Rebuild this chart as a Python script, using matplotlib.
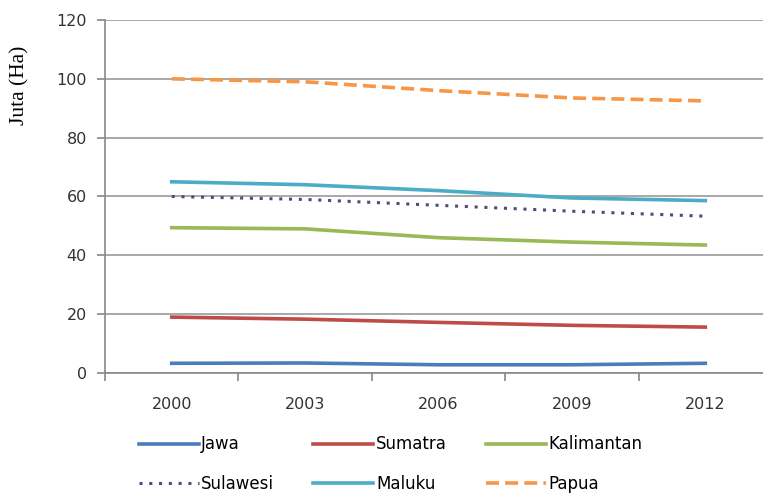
import numpy as np
import matplotlib.pyplot as plt

tahun = ['2000', '2003', '2006', '2009', '2012']
jawa = [3.3, 3.4, 2.8, 2.8, 3.3]
sumatra = [19.0, 18.3, 17.2, 16.2, 15.6]
kalimantan = [49.4, 49.0, 46.0, 44.5, 43.5]
sulawesi = [60.0, 59.0, 57.0, 55.0, 53.3]
maluku = [65.0, 64.0, 62.0, 59.5, 58.6]
papua = [100.0, 99.0, 96.0, 93.5, 92.5]

fig = plt.figure(figsize=(7.63, 4.95), dpi=100)
ax = fig.add_axes([105/763, 1-373/495, 667/763, 353/495])

x = np.arange(len(tahun))
lw = 2.6
l_jawa, = ax.plot(x, jawa, color='#4A7EBB', lw=lw, label='Jawa')
l_sum, = ax.plot(x, sumatra, color='#BE4B48', lw=lw, label='Sumatra')
l_kal, = ax.plot(x, kalimantan, color='#98B954', lw=lw, label='Kalimantan')
l_sul, = ax.plot(x, sulawesi, color='#54477A', lw=2.2, ls=(0, (1, 2.2)), label='Sulawesi')
l_mal, = ax.plot(x, maluku, color='#4BACC6', lw=lw, label='Maluku')
l_pap, = ax.plot(x, papua, color='#F79646', lw=lw, ls=(0, (3.6, 1.7)), label='Papua')

ax.set_xlim(-0.5, 4.5)
ax.set_ylim(0, 120)
ax.set_yticks(range(0, 121, 20))
ax.set_xticks(x)
ax.set_xticklabels(tahun, fontsize=11.5, family='DejaVu Sans', color='#333333')
ax.tick_params(axis='x', which='major', length=0, pad=17)
ax.set_xticks(np.arange(-0.5, 4.6, 1), minor=True)
ax.tick_params(axis='x', which='minor', length=6, color='#888888', width=1.2)
ax.tick_params(axis='y', length=6, color='#888888', width=1.2, labelsize=11.5, labelcolor='#333333', pad=7)
for t in ax.get_yticklabels():
    t.set_family('DejaVu Sans')
ax.grid(axis='y', color='#999999', lw=1.2)
ax.set_axisbelow(True)
for s in ['top', 'right']:
    ax.spines[s].set_visible(False)
for s in ['left', 'bottom']:
    ax.spines[s].set_color('#888888')
    ax.spines[s].set_linewidth(1.2)
ax.set_ylabel('Juta (Ha)', family='Liberation Serif', fontsize=15.5)
ax.yaxis.set_label_coords(-0.113, 0.816)

handles = [l_jawa, l_sul, l_sum, l_mal, l_kal, l_pap]
fig.legend(handles=handles, labels=[h.get_label() for h in handles], ncol=3,
           loc='center', bbox_to_anchor=(0.512, 0.062), frameon=False,
           prop={'family': 'DejaVu Sans', 'size': 12}, handlelength=3.6, handletextpad=0.15,
           columnspacing=2.35, labelspacing=1.3)

fig.savefig('out.png', dpi=100)
